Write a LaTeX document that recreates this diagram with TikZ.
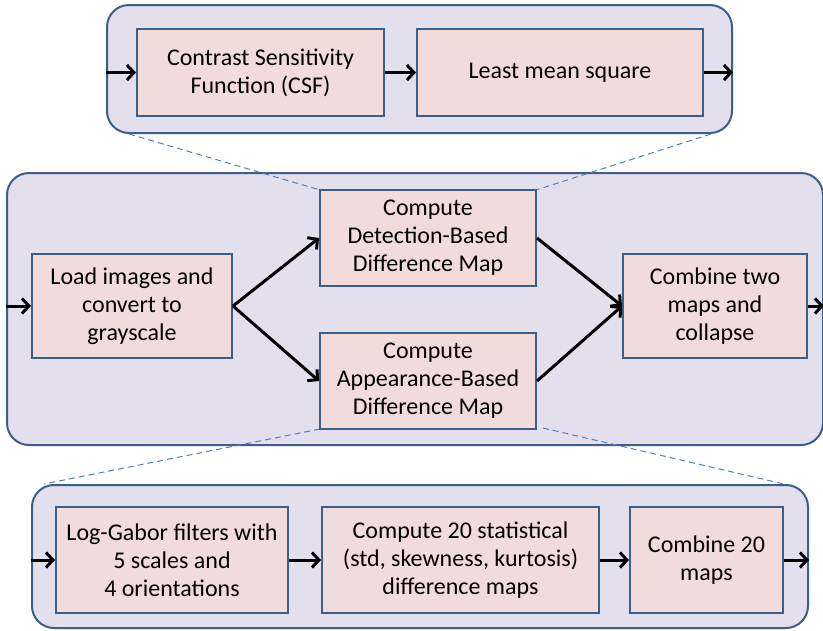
\documentclass[tikz,border=0pt]{standalone}
\usepackage{fontspec}
\setmainfont{Carlito}
\usepackage{tikz}
\usetikzlibrary{arrows.meta}
\usetikzlibrary{calc}

\definecolor{panelfill}{HTML}{E4DFEC}
\definecolor{stepfill}{HTML}{F2DCDB}
\definecolor{edgeblue}{HTML}{3A5F8B}
\definecolor{zoomblue}{HTML}{4F81BD}

\begin{document}
\begin{tikzpicture}[x=1pt,y=-1pt,
    panel/.style={draw=edgeblue,fill=panelfill,line width=2pt,rounded corners=22pt,inner sep=0pt},
    stepbox/.style={draw=edgeblue,fill=stepfill,line width=2pt,inner sep=0pt,align=center,
        font=\fontsize{24}{28}\selectfont},
    flow/.style={-{Straight Barb[length=7pt,width=15pt]},line width=3pt},
    zoomline/.style={draw=zoomblue,line width=1pt,dash pattern=on 6pt off 4pt}]

    \useasboundingbox (0,0) rectangle (823,630);

    % Draw panels
    \node (topbox) [panel,minimum width=625,minimum height=128] at (419.5,69) {};
    \node (midbox) [panel,minimum width=816,minimum height=272] at (415,309) {};
    \node (botbox) [panel,minimum width=776,minimum height=143] at (420,556.5) {};

%Zoom lines between the panels
    \draw[zoomline] ($(topbox.south west)+(23,0)$) -- (320,190) coordinate (detnw);
    \draw[zoomline] ($(topbox.south east)+(-22,0)$) -- (536,190) coordinate (detne);
    \draw[zoomline] (320,429) coordinate (appsw) -- ($(botbox.north west)+(13,0)$);
    \draw[zoomline] (543,428) coordinate (appse) -- ($(botbox.north east)+(-25,0)$);

    % Top panel
    \node (csf) [stepbox,minimum width=247,minimum height=87] at (260.5,72.5)
        {Contrast Sensitivity\\Function (CSF)};
    \node (lms) [stepbox,minimum width=286,minimum height=87] at (560,72.5)
        {Least mean square};

    \draw[flow] (topbox.west |- csf.west) -- (csf.west);
    \draw[flow] (csf.east) -- (lms.west);
    \draw[flow] (lms.east) -- (topbox.east |- lms.east);

    % Middle panel
    \node (load) [stepbox,minimum width=200,minimum height=104] at (132,306)
        {Load images and\\convert to\\grayscale};
    \node (det) [stepbox,minimum width=216,minimum height=96] at (428,238)
        {Compute\\Detection-Based\\Difference Map};
    \node (app) [stepbox,minimum width=216,minimum height=96] at (428,381)
        {Compute\\Appearance-Based\\Difference Map};
    \node (comb) [stepbox,minimum width=184,minimum height=104] at (715,306)
        {Combine two\\maps and\\collapse};

    \draw[flow] (midbox.west |- load.west) -- (load.west);
    \draw[flow] (load.east) -- (det.west);
    \draw[flow] (load.east) -- (app.west);
    \draw[flow] (det.east) -- (comb.west);
    \draw[flow] (app.east) -- (comb.west);
    \draw[flow] (comb.east) -- (midbox.east |- comb.east);

    % Bottom panel
    \node (gabor) [stepbox,minimum width=232,minimum height=106] at (172,560)
        {Log-Gabor filters with\\5 scales and\\4 orientations};
    \node (stat) [stepbox,minimum width=277,minimum height=106] at (460.5,560)
        {Compute 20 statistical\\(std, skewness, kurtosis)\\difference maps};
    \node (comb20) [stepbox,minimum width=153,minimum height=106] at (706.5,560)
        {Combine 20\\maps};

    \draw[flow] (botbox.west |- gabor.west) -- (gabor.west);
    \draw[flow] (gabor.east) -- (stat.west);
    \draw[flow] (stat.east) -- (comb20.west);
    \draw[flow] (comb20.east) -- (botbox.east |- comb20.east);

\end{tikzpicture}
\end{document}
